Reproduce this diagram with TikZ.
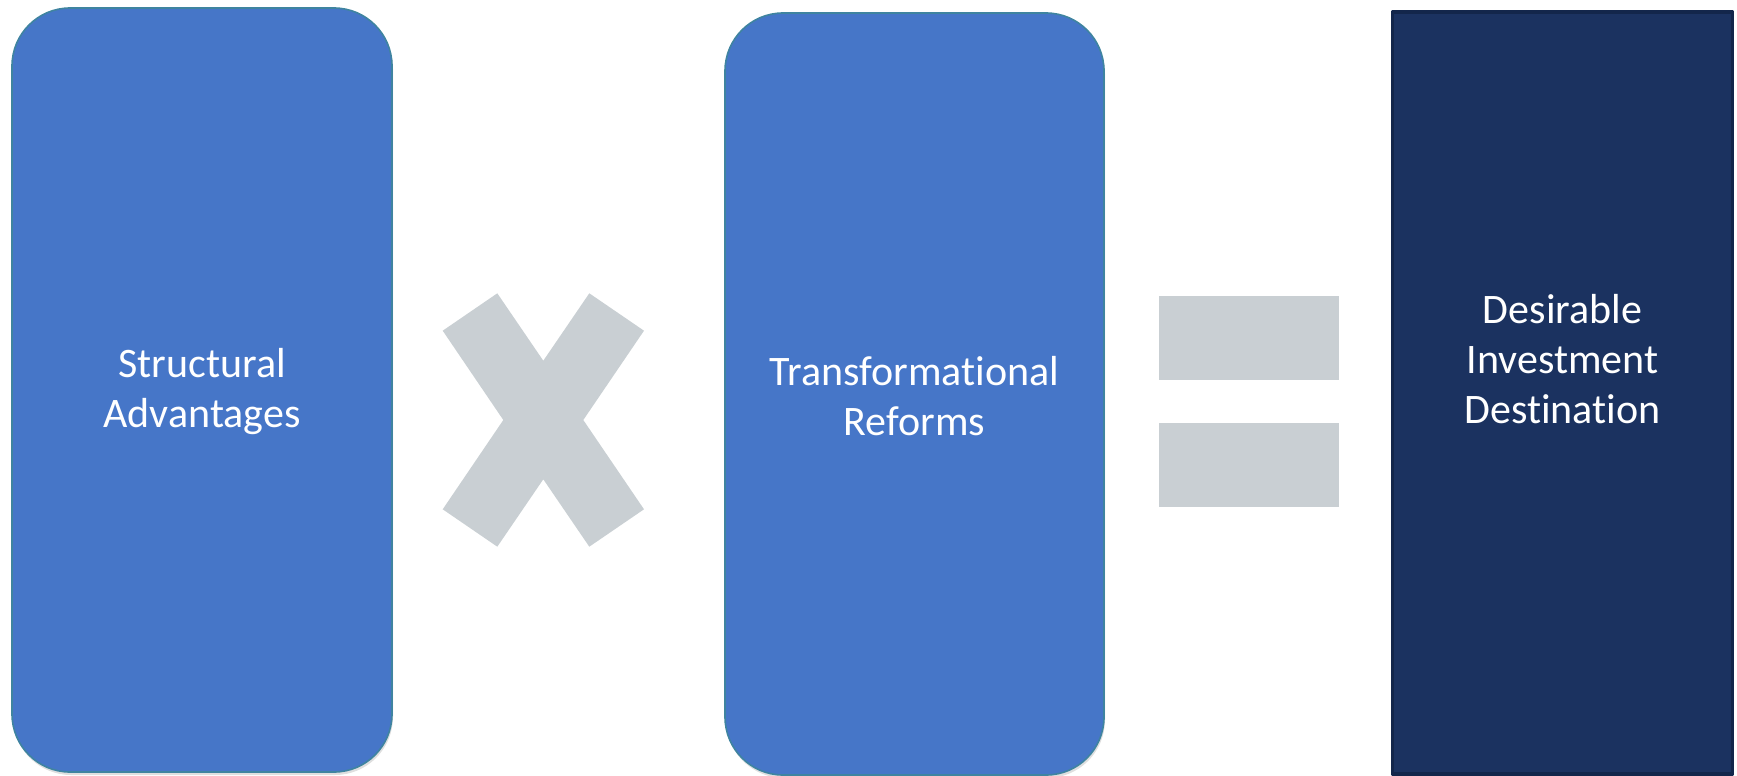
\documentclass[tikz,border=0pt]{standalone}
\usepackage{fontspec}
\setmainfont{Carlito}[Ligatures=NoCommon]
\usetikzlibrary{shadows}

\definecolor{boxblue}{HTML}{4676C8}
\definecolor{boxedge}{HTML}{3F84A0}
\definecolor{navy}{HTML}{1B3260}
\definecolor{navyedge}{HTML}{13264B}
\definecolor{signgrey}{HTML}{C9CFD3}

\tikzset{
  factor/.style={rectangle,rounded corners=58pt,fill=boxblue,draw=boxedge,line width=1.6pt,
    drop shadow={shadow xshift=1pt,shadow yshift=-3pt,opacity=0.25}},
  result/.style={rectangle,fill=navy,draw=navyedge,line width=3.5pt},
  caption/.style={text=white,align=center,anchor=base,font=\fontsize{42}{50}\selectfont},
  sign/.style={fill=signgrey,draw=none}
}

\begin{document}
\begin{tikzpicture}[x=1pt,y=-1pt,line join=round]
\useasboundingbox (0,0) rectangle (1737,776);

% the two factors and the outcome
\node[factor,minimum width=380pt,minimum height=764pt] (struct) at (202,390) {};
\node[factor,minimum width=379pt,minimum height=762pt] (reform) at (914.5,394) {};
\node[result,minimum width=340pt,minimum height=762pt] (dest) at (1562.5,393) {};

% base sits on the last line
\node[caption] (structtxt) at (202,427) {Structural\\Advantages};
\node[caption] (reformtxt) at (914.5,435) {Transformational\\Reforms};
\node[caption] (desttxt) at (1562.5,423) {Desirable\\Investment\\Destination};

% times sign
\fill[sign] (442.7,330.7) -- (497.3,293.3) -- (543.3,360.7) -- (589.3,293.3)
  -- (644,330.7) -- (583.3,420) -- (644,509.3) -- (589.3,546.7)
  -- (543.3,479.3) -- (497.3,546.7) -- (442.7,509.3) -- (503.3,420) -- cycle;

% equals sign
\fill[sign] (1159,296) rectangle (1339,380);
\fill[sign] (1159,423) rectangle (1339,507);
\end{tikzpicture}
\end{document}
